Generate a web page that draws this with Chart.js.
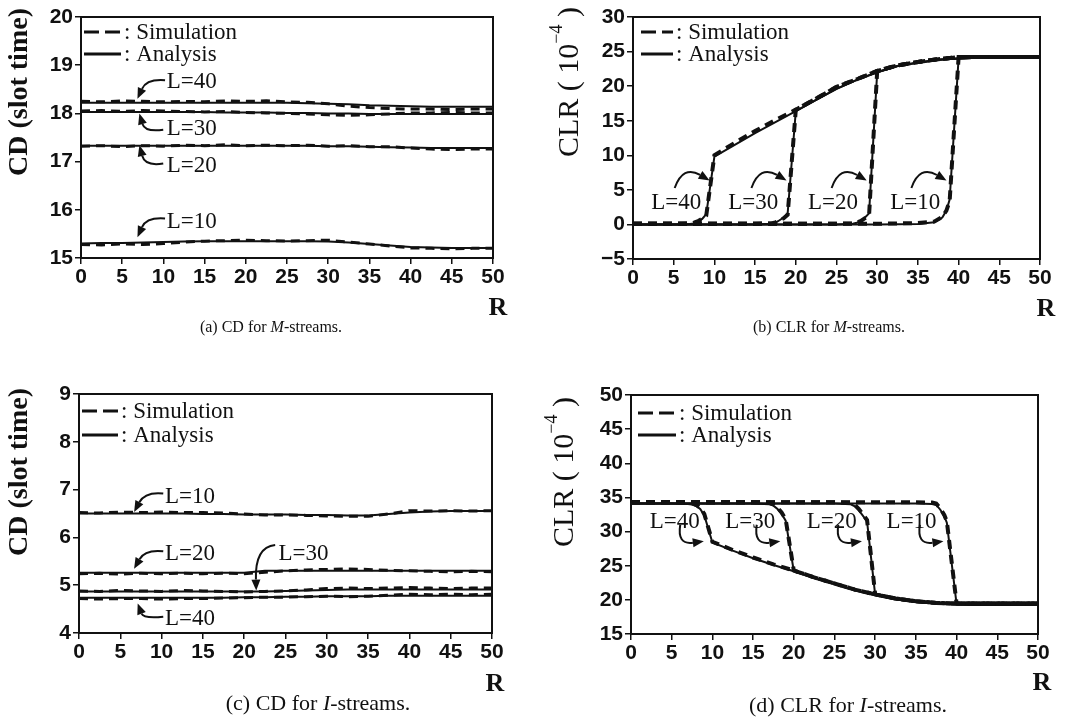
<!DOCTYPE html>
<html><head><meta charset="utf-8">
<script src="https://cdn.jsdelivr.net/npm/chart.js@4.4.1/dist/chart.umd.min.js"></script>
<style>
html,body{margin:0;padding:0;background:#fff;width:1084px;height:720px;overflow:hidden;}
canvas{position:absolute;}
.cap{position:absolute;font-family:'Liberation Serif',serif;font-size:22px;color:#111;white-space:nowrap;transform:translate(-50%,-50%);}
.cap.top{font-size:16px;}
</style></head><body>
<canvas id="ca" width="540" height="320" style="left:0;top:0"></canvas>
<canvas id="cb" width="544" height="320" style="left:540px;top:0"></canvas>
<canvas id="cc" width="540" height="345" style="left:0;top:355px"></canvas>
<canvas id="cd" width="544" height="345" style="left:540px;top:355px"></canvas>
<div class="cap top" style="left:271px;top:327px">(a) CD for <i>M</i>-streams.</div>
<div class="cap top" style="left:829px;top:327px">(b) CLR for <i>M</i>-streams.</div>
<div class="cap" style="left:318px;top:703px">(c) CD for <i>I</i>-streams.</div>
<div class="cap" style="left:848px;top:705px">(d) CLR for <i>I</i>-streams.</div>
<script>
// ---------- DATA ----------
const X_TICKS = [0,5,10,15,20,25,30,35,40,45,50];
const R_CD = [0,2.5,5,7.5,10,12.5,15,17.5,20,22.5,25,27.5,30,32.5,35,37.5,40,42.5,45,47.5,50];

// (a) CD for M-streams
const cdM_ana_L40 = [18.22,18.22,18.22,18.22,18.22,18.22,18.22,18.22,18.22,18.22,18.22,18.21,18.20,18.19,18.17,18.16,18.15,18.14,18.14,18.14,18.14];
const cdM_sim_L40 = [18.25,18.24,18.26,18.25,18.24,18.25,18.24,18.26,18.25,18.26,18.24,18.23,18.20,18.15,18.12,18.10,18.09,18.09,18.08,18.09,18.09];
const cdM_ana_L30 = [18.03,18.03,18.03,18.03,18.03,18.03,18.03,18.02,18.02,18.02,18.01,18.01,18.00,18.00,17.99,17.99,17.99,17.99,17.99,17.99,17.99];
const cdM_sim_L30 = [18.05,18.06,18.04,18.06,18.05,18.04,18.03,18.04,18.02,18.01,18.00,17.99,17.97,17.96,17.97,17.99,18.01,18.01,18.02,18.01,18.01];
const cdM_ana_L20 = [17.33,17.33,17.33,17.33,17.33,17.33,17.33,17.33,17.33,17.33,17.33,17.33,17.32,17.32,17.31,17.30,17.29,17.28,17.28,17.28,17.28];
const cdM_sim_L20 = [17.32,17.33,17.31,17.33,17.32,17.34,17.33,17.35,17.33,17.34,17.33,17.34,17.32,17.33,17.31,17.31,17.28,17.26,17.25,17.26,17.26];
const cdM_ana_L10 = [15.30,15.31,15.31,15.32,15.33,15.34,15.35,15.35,15.35,15.35,15.35,15.35,15.34,15.32,15.29,15.26,15.23,15.22,15.21,15.21,15.21];
const cdM_sim_L10 = [15.28,15.27,15.29,15.28,15.30,15.33,15.35,15.36,15.37,15.36,15.35,15.36,15.37,15.33,15.29,15.25,15.21,15.20,15.19,15.20,15.20];

// (c) CD for I-streams
const cdI_ana_L10 = [6.50,6.50,6.50,6.50,6.50,6.50,6.49,6.49,6.48,6.48,6.48,6.47,6.47,6.46,6.46,6.49,6.52,6.54,6.55,6.55,6.55];
const cdI_sim_L10 = [6.52,6.51,6.53,6.52,6.53,6.52,6.52,6.51,6.49,6.47,6.47,6.46,6.45,6.44,6.44,6.49,6.56,6.55,6.56,6.55,6.56];
const cdI_ana_L20 = [5.26,5.26,5.26,5.26,5.26,5.26,5.26,5.26,5.26,5.30,5.30,5.30,5.30,5.30,5.30,5.30,5.30,5.30,5.30,5.30,5.30];
const cdI_sim_L20 = [5.24,5.25,5.23,5.25,5.24,5.25,5.24,5.25,5.24,5.27,5.30,5.32,5.33,5.34,5.33,5.31,5.30,5.29,5.28,5.29,5.28];
const cdI_ana_L30 = [4.87,4.87,4.87,4.87,4.87,4.87,4.87,4.87,4.87,4.87,4.88,4.89,4.90,4.91,4.91,4.91,4.91,4.91,4.91,4.91,4.91];
const cdI_sim_L30 = [4.88,4.87,4.89,4.88,4.87,4.89,4.88,4.87,4.86,4.87,4.88,4.90,4.93,4.94,4.93,4.94,4.95,4.94,4.93,4.94,4.94];
const cdI_ana_L40 = [4.74,4.74,4.74,4.74,4.74,4.74,4.74,4.74,4.75,4.75,4.76,4.76,4.77,4.77,4.77,4.78,4.78,4.78,4.78,4.78,4.78];
const cdI_sim_L40 = [4.72,4.71,4.72,4.72,4.71,4.72,4.72,4.73,4.74,4.75,4.75,4.76,4.77,4.76,4.77,4.79,4.81,4.80,4.81,4.80,4.81];

// (b) CLR for M-streams (x10^-4)
const clrM_x_L40 = [0,5,7,7.5,8,8.5,9,10,12.5,15,17.5,20,22.5,25,27.5,30,32.5,35,37.5,40,42.5,45,47.5,50];
const clrM_ana_L40 = [0,0,0.05,0.15,0.4,0.8,1.5,9.8,11.5,13.2,14.8,16.4,18.0,19.6,20.9,22.0,22.9,23.4,23.8,24.0,24.1,24.1,24.1,24.1];
const clrM_sim_L40 = [0.1,0.1,0.15,0.25,0.5,0.8,1.3,10.0,11.8,13.5,15.1,16.6,18.2,19.9,21.0,22.2,23.0,23.5,23.9,24.2,24.2,24.2,24.2,24.2];
const clrM_x_L30 = [0,5,10,15,17,17.5,18,18.5,19,20,22.5,25,27.5,30,32.5,35,37.5,40,42.5,45,47.5,50];
const clrM_ana_L30 = [0,0,0,0,0.1,0.25,0.6,1.0,1.6,16.4,18.0,19.6,20.9,22.0,22.9,23.4,23.8,24.0,24.1,24.1,24.1,24.1];
const clrM_sim_L30 = [0.1,0.1,0.1,0.1,0.15,0.3,0.6,0.9,1.4,16.6,18.2,19.9,21.0,22.2,23.0,23.5,23.9,24.2,24.2,24.2,24.2,24.2];
const clrM_x_L20 = [0,5,10,15,20,25,27,27.5,28,28.5,29,30,32.5,35,37.5,40,42.5,45,47.5,50];
const clrM_ana_L20 = [0,0,0,0,0,0,0.1,0.25,0.5,1.0,1.6,22.0,22.9,23.4,23.8,24.0,24.1,24.1,24.1,24.1];
const clrM_sim_L20 = [0.1,0.1,0.1,0.1,0.1,0.1,0.15,0.3,0.5,0.9,1.3,22.2,23.0,23.5,23.9,24.2,24.2,24.2,24.2,24.2];
const clrM_x_L10 = [0,5,10,15,20,25,30,35,37,38,38.5,38.9,40,42.5,45,47.5,50];
const clrM_ana_L10 = [0,0,0,0,0,0,0,0.05,0.3,1.0,2.0,3.6,24.0,24.1,24.1,24.1,24.1];
const clrM_sim_L10 = [0.1,0.1,0.1,0.1,0.1,0.1,0.1,0.2,0.4,1.1,2.0,3.4,24.2,24.2,24.2,24.2,24.2];

// (d) CLR for I-streams (x10^-4)
const clrI_x_L40 = [0,5,7,7.5,8,8.5,9,10,12.5,15,17.5,20,22.5,25,27.5,30,32.5,35,37.5,40,42.5,45,47.5,50];
const clrI_ana_L40 = [34.1,34.1,34.05,33.95,33.75,33.3,32.4,28.4,27.2,26.1,25.1,24.2,23.2,22.3,21.4,20.7,20.1,19.7,19.45,19.35,19.3,19.3,19.3,19.3];
const clrI_sim_L40 = [34.3,34.3,34.25,34.15,33.9,33.5,32.6,28.5,27.3,26.2,25.2,24.3,23.3,22.4,21.5,20.8,20.2,19.8,19.55,19.45,19.45,19.45,19.45,19.45];
const clrI_x_L30 = [0,5,10,15,17,17.5,18,18.5,19,20,22.5,25,27.5,30,32.5,35,37.5,40,42.5,45,47.5,50];
const clrI_ana_L30 = [34.1,34.1,34.1,34.1,34.0,33.8,33.3,32.6,31.6,24.2,23.2,22.3,21.4,20.7,20.1,19.7,19.45,19.35,19.3,19.3,19.3,19.3];
const clrI_sim_L30 = [34.3,34.3,34.3,34.3,34.2,34.0,33.5,32.8,31.8,24.3,23.3,22.4,21.5,20.8,20.2,19.8,19.55,19.45,19.45,19.45,19.45,19.45];
const clrI_x_L20 = [0,5,10,15,20,25,27,27.5,28,28.5,29,30,32.5,35,37.5,40,42.5,45,47.5,50];
const clrI_ana_L20 = [34.1,34.1,34.1,34.1,34.1,34.1,34.0,33.7,33.1,32.3,31.5,20.7,20.1,19.7,19.45,19.35,19.3,19.3,19.3,19.3];
const clrI_sim_L20 = [34.3,34.3,34.3,34.3,34.3,34.3,34.2,33.9,33.3,32.5,31.7,20.8,20.2,19.8,19.55,19.45,19.45,19.45,19.45,19.45];
const clrI_x_L10 = [0,5,10,15,20,25,30,35,37,37.5,38,38.5,38.8,40,42.5,45,47.5,50];
const clrI_ana_L10 = [34.1,34.1,34.1,34.1,34.1,34.1,34.1,34.1,34.05,33.9,33.2,32.2,31.3,19.35,19.3,19.3,19.3,19.3];
const clrI_sim_L10 = [34.3,34.3,34.3,34.3,34.3,34.3,34.3,34.3,34.25,34.1,33.4,32.4,31.5,19.45,19.45,19.45,19.45,19.45];

// ---------- RENDERING ----------
const INK = '#111';
const decor = {
  id: 'decor',
  afterDraw(chart, args, o) {
    const {ctx, chartArea: a, scales: {x, y}} = chart;
    const px = v => x.getPixelForValue(v), py = v => y.getPixelForValue(v);
    ctx.save();
    ctx.strokeStyle = INK; ctx.fillStyle = INK;
    // frame
    ctx.lineWidth = 2;
    ctx.strokeRect(a.left, a.top, a.right - a.left, a.bottom - a.top);
    // legend
    ctx.font = '23px "Liberation Serif"';
    ctx.textBaseline = 'middle'; ctx.textAlign = 'left';
    const rows = [['Simulation', [15, 6]], ['Analysis', []]];
    rows.forEach((r, i) => {
      const yy = a.top + o.legend.dy[i];
      ctx.lineWidth = 3; ctx.setLineDash(r[1]);
      ctx.beginPath(); ctx.moveTo(a.left + o.legend.x0, yy); ctx.lineTo(a.left + o.legend.x1, yy); ctx.stroke();
      ctx.setLineDash([]);
      ctx.fillText(': ' + r[0], a.left + o.legend.tx, yy + 1);
    });
    // notes with curved arrows
    o.notes.forEach(n => {
      ctx.fillText(n.t, px(n.at[0]), py(n.at[1]));
      const [p0, p1, p2] = n.arrow.map(p => [px(p[0]), py(p[1])]);
      let dx = p2[0] - p1[0], dy = p2[1] - p1[1];
      const len = Math.hypot(dx, dy); dx /= len; dy /= len;
      const base = [p2[0] - dx * 9, p2[1] - dy * 9];
      ctx.lineWidth = 2;
      ctx.beginPath(); ctx.moveTo(p0[0], p0[1]);
      ctx.quadraticCurveTo(p1[0], p1[1], base[0], base[1]); ctx.stroke();
      ctx.beginPath();
      ctx.moveTo(p2[0] + dx * 2, p2[1] + dy * 2);
      ctx.lineTo(base[0] - dy * 4.5, base[1] + dx * 4.5);
      ctx.lineTo(base[0] + dy * 4.5, base[1] - dx * 4.5);
      ctx.closePath(); ctx.fill();
    });
    // y title (rotated)
    const t = o.yTitle;
    ctx.translate(t.cx, t.cy); ctx.rotate(-Math.PI / 2);
    ctx.textAlign = 'left'; ctx.textBaseline = 'middle';
    const mainFont = (t.bold ? 'bold ' : '') + t.size + 'px "Liberation Serif"';
    const supFont = Math.round(t.size * 0.6) + 'px "Liberation Serif"';
    ctx.font = mainFont; const w1 = ctx.measureText(t.text).width;
    let w2 = 0, w3 = 0;
    if (t.sup) { ctx.font = supFont; w2 = ctx.measureText(t.sup).width; ctx.font = mainFont; w3 = ctx.measureText(t.after).width; }
    let sx = -(w1 + w2 + w3) / 2;
    ctx.font = mainFont; ctx.fillText(t.text, sx, 0); sx += w1;
    if (t.sup) {
      ctx.font = supFont; ctx.fillText(t.sup, sx, -t.size * 0.42); sx += w2;
      ctx.font = mainFont; ctx.fillText(t.after, sx, 0);
    }
    ctx.setTransform(1, 0, 0, 1, 0, 0);
    // x title
    ctx.font = 'bold 26px "Liberation Serif"'; ctx.textAlign = 'center'; ctx.textBaseline = 'middle';
    ctx.fillText('R', o.xTitle[0], o.xTitle[1]);
    ctx.restore();
  }
};

const tickFont = {family: 'Liberation Sans', size: 21, weight: 'bold'};
function series(xs, ys, sim, simW) {
  return {
    data: xs.map((v, i) => ({x: v, y: ys[i]})),
    borderColor: INK, borderWidth: sim ? simW : 2, borderDash: sim ? [9, 6] : [],
    pointRadius: 0, tension: 0, fill: false, borderCapStyle: 'butt', order: sim ? 0 : 1
  };
}
function makeChart(id, c) {
  return new Chart(document.getElementById(id), {
    type: 'line',
    data: {datasets: c.sets},
    options: {
      responsive: false, animation: false, events: [],
      layout: {padding: c.pad},
      plugins: {legend: {display: false}, tooltip: {enabled: false}, decor: c.decor},
      scales: {
        x: {type: 'linear', min: 0, max: 50,
          afterBuildTicks: s => { s.ticks = X_TICKS.map(v => ({value: v})); },
          ticks: {autoSkip: false, maxRotation: 0, font: tickFont, color: INK, padding: 1},
          grid: {drawOnChartArea: false, tickLength: 6, color: INK, lineWidth: 1.5},
          border: {display: false},
          afterFit: s => { s.height = c.xH; }},
        y: {type: 'linear', min: c.yMin, max: c.yMax,
          ticks: {stepSize: c.yStep, autoSkip: false, font: tickFont, color: INK, padding: 2,
            callback: v => String(v).replace('-', '\u2212')},
          grid: {drawOnChartArea: false, tickLength: 6, color: INK, lineWidth: 1.5},
          border: {display: false},
          afterFit: s => { s.width = c.yW; }}
      }
    },
    plugins: [decor]
  });
}
const LEG = {x0: 3, x1: 40, tx: 43, dy: [15, 37]};

makeChart('ca', {
  sets: [
    series(R_CD, cdM_ana_L40, false), series(R_CD, cdM_sim_L40, true, 3),
    series(R_CD, cdM_ana_L30, false), series(R_CD, cdM_sim_L30, true, 3),
    series(R_CD, cdM_ana_L20, false), series(R_CD, cdM_sim_L20, true, 3),
    series(R_CD, cdM_ana_L10, false), series(R_CD, cdM_sim_L10, true, 3)],
  yMin: 15, yMax: 20, yStep: 1, yW: 81, xH: 62, pad: {left: 0, top: 17, right: 47, bottom: 0},
  decor: {legend: LEG, xTitle: [498, 308],
    yTitle: {text: 'CD (slot time)', bold: true, size: 28, cx: 20, cy: 92},
    notes: [
      {t: 'L=40', at: [10.4, 18.65], arrow: [[10.2, 18.69], [7.96, 18.72], [6.95, 18.34]]},
      {t: 'L=30', at: [10.4, 17.68], arrow: [[9.98, 17.66], [7.76, 17.61], [7.15, 17.96]]},
      {t: 'L=20', at: [10.4, 16.92], arrow: [[9.98, 16.96], [7.76, 16.90], [7.15, 17.30]]},
      {t: 'L=10', at: [10.4, 15.75], arrow: [[10.2, 15.82], [7.96, 15.85], [6.95, 15.47]]}]}
});

makeChart('cb', {
  sets: [
    series(clrM_x_L40, clrM_ana_L40, false), series(clrM_x_L40, clrM_sim_L40, true, 4),
    series(clrM_x_L30, clrM_ana_L30, false), series(clrM_x_L30, clrM_sim_L30, true, 4),
    series(clrM_x_L20, clrM_ana_L20, false), series(clrM_x_L20, clrM_sim_L20, true, 4),
    series(clrM_x_L10, clrM_ana_L10, false), series(clrM_x_L10, clrM_sim_L10, true, 4)],
  yMin: -5, yMax: 30, yStep: 5, yW: 93, xH: 61, pad: {left: 0, top: 17, right: 44, bottom: 0},
  decor: {legend: {x0: 8, x1: 40, tx: 43, dy: [15, 37]}, xTitle: [506, 309],
    yTitle: {text: 'CLR ( 10', sup: '\u22124', after: ' )', bold: false, size: 30, cx: 30, cy: 82},
    notes: [
      {t: 'L=40', at: [2.25, 3.1], arrow: [[5.12, 5.27], [6.15, 8.6], [9.2, 6.5]]},
      {t: 'L=30', at: [11.7, 3.1], arrow: [[14.55, 5.27], [15.57, 8.6], [18.65, 6.5]]},
      {t: 'L=20', at: [21.5, 3.1], arrow: [[24.4, 5.27], [25.4, 8.6], [28.5, 6.5]]},
      {t: 'L=10', at: [31.6, 3.1], arrow: [[34.2, 5.27], [35.2, 8.6], [38.3, 6.5]]}]}
});

makeChart('cc', {
  sets: [
    series(R_CD, cdI_ana_L10, false), series(R_CD, cdI_sim_L10, true, 3),
    series(R_CD, cdI_ana_L20, false), series(R_CD, cdI_sim_L20, true, 3),
    series(R_CD, cdI_ana_L30, false), series(R_CD, cdI_sim_L30, true, 3),
    series(R_CD, cdI_ana_L40, false), series(R_CD, cdI_sim_L40, true, 3)],
  yMin: 4, yMax: 9, yStep: 1, yW: 79, xH: 67, pad: {left: 0, top: 39, right: 48, bottom: 0},
  decor: {legend: {x0: 3, x1: 39, tx: 42, dy: [17, 41]}, xTitle: [495, 329],
    yTitle: {text: 'CD (slot time)', bold: true, size: 28, cx: 20, cy: 117},
    notes: [
      {t: 'L=10', at: [10.42, 6.85], arrow: [[10.2, 6.92], [8.0, 6.96], [6.79, 6.57]]},
      {t: 'L=20', at: [10.42, 5.65], arrow: [[10.2, 5.71], [8.0, 5.75], [6.79, 5.38]]},
      {t: 'L=30', at: [24.15, 5.65], arrow: [[23.75, 5.84], [21.3, 5.80], [21.45, 4.93]]},
      {t: 'L=40', at: [10.42, 4.30], arrow: [[10.2, 4.34], [7.8, 4.30], [7.19, 4.58]]}]}
});

makeChart('cd', {
  sets: [
    series(clrI_x_L40, clrI_ana_L40, false), series(clrI_x_L40, clrI_sim_L40, true, 4),
    series(clrI_x_L30, clrI_ana_L30, false), series(clrI_x_L30, clrI_sim_L30, true, 4),
    series(clrI_x_L20, clrI_ana_L20, false), series(clrI_x_L20, clrI_sim_L20, true, 4),
    series(clrI_x_L10, clrI_ana_L10, false), series(clrI_x_L10, clrI_sim_L10, true, 4)],
  yMin: 15, yMax: 50, yStep: 5, yW: 91, xH: 66, pad: {left: 0, top: 40, right: 46, bottom: 0},
  decor: {legend: {x0: 7, x1: 45, tx: 48, dy: [18, 40]}, xTitle: [502, 328],
    yTitle: {text: 'CLR ( 10', sup: '\u22124', after: ' )', bold: false, size: 30, cx: 25, cy: 117},
    notes: [
      {t: 'L=40', at: [2.29, 31.47], arrow: [[6.05, 31.0], [5.64, 28.06], [8.7, 28.55]]},
      {t: 'L=30', at: [11.57, 31.47], arrow: [[15.45, 31.0], [15.05, 28.06], [18.1, 28.55]]},
      {t: 'L=20', at: [21.59, 31.47], arrow: [[25.47, 31.0], [25.06, 28.06], [28.13, 28.55]]},
      {t: 'L=10', at: [31.4, 31.47], arrow: [[35.49, 31.0], [35.08, 28.06], [38.14, 28.55]]}]}
});
</script>
</body></html>
